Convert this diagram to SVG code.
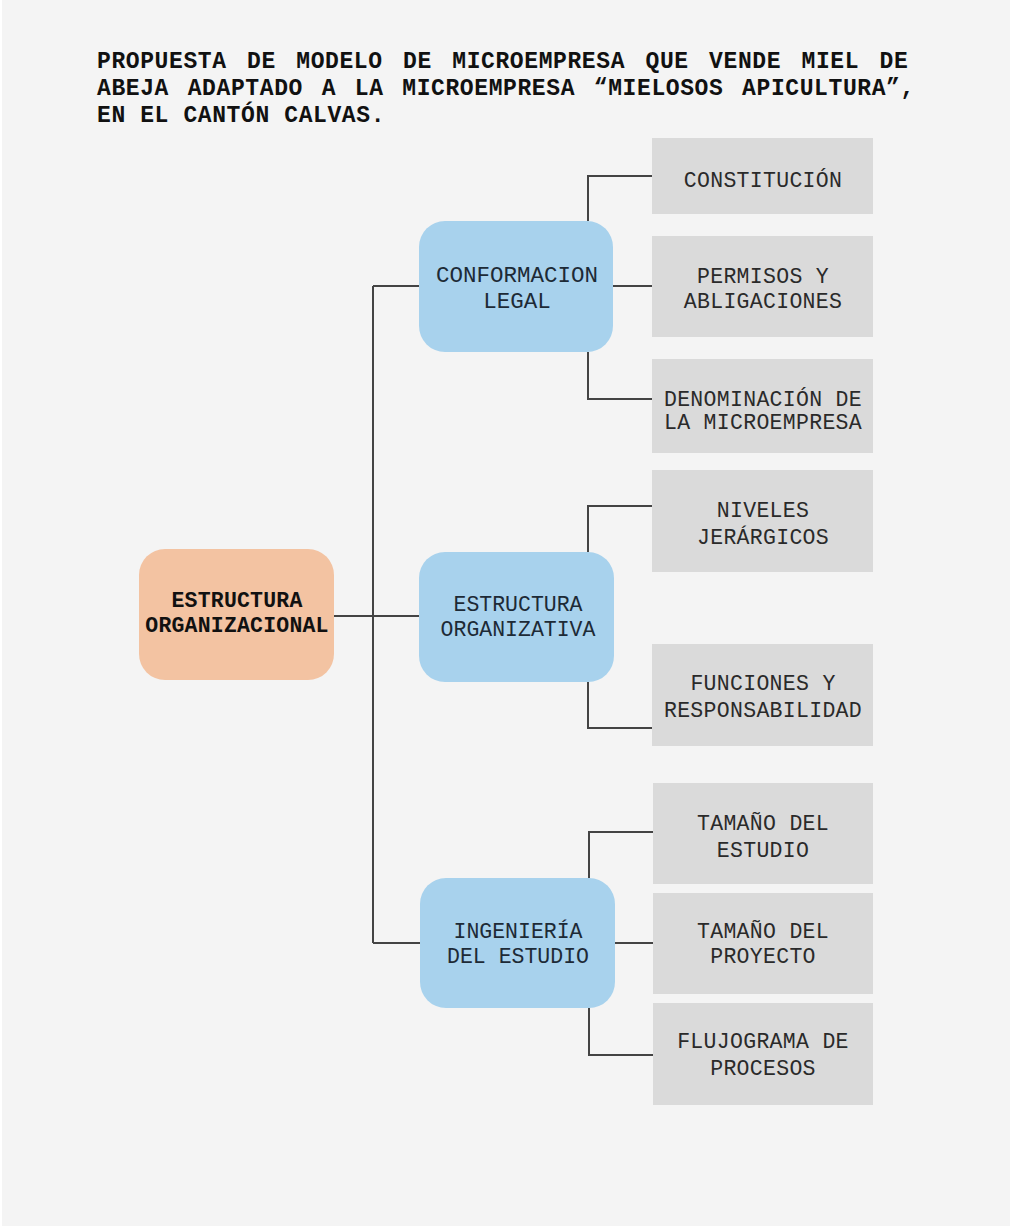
<svg xmlns="http://www.w3.org/2000/svg" width="1010" height="1229" viewBox="0 0 1010 1229">
<style>
.title{font-family:"Liberation Mono",monospace;font-weight:bold;font-size:23px;letter-spacing:0.6px;fill:#111}
.ot{font-family:"Liberation Mono",monospace;font-weight:bold;font-size:21.5px;letter-spacing:0.2px;fill:#111;text-anchor:middle}
.bt{font-family:"Liberation Mono",monospace;font-size:21.5px;letter-spacing:0px;fill:#1d2a36;text-anchor:middle}
.gt{font-family:"Liberation Mono",monospace;font-size:21.5px;letter-spacing:0.3px;fill:#2a2a2a;text-anchor:middle}
.orange{fill:#f3c3a2}
.blue{fill:#a8d2ed}
.gray{fill:#dadada}
.conn{fill:none;stroke:#444;stroke-width:2}
</style>
<rect x="0" y="0" width="1010" height="1229" fill="#ffffff"/>
<rect x="2" y="0" width="1008" height="1226" fill="#f4f4f4"/>
<g id="title">
<text class="title" x="97" y="68" word-spacing="6">PROPUESTA DE MODELO DE MICROEMPRESA QUE VENDE MIEL DE</text>
<text class="title" x="97" y="95" word-spacing="4.3">ABEJA ADAPTADO A LA MICROEMPRESA “MIELOSOS APICULTURA”,</text>
<text class="title" x="97" y="122">EN EL CANTÓN CALVAS.</text>
</g>
<g id="connectors">
<path class="conn" d="M373 286 V943"/>
<path class="conn" d="M373 286 H419"/>
<path class="conn" d="M334 616 H419"/>
<path class="conn" d="M373 943 H420"/>
<path class="conn" d="M588 221 V176 H652"/>
<path class="conn" d="M613 286 H652"/>
<path class="conn" d="M588 352 V399 H652"/>
<path class="conn" d="M588 552 V506 H652"/>
<path class="conn" d="M588 682 V728 H652"/>
<path class="conn" d="M589 878 V832 H653"/>
<path class="conn" d="M615 943 H653"/>
<path class="conn" d="M589 1008 V1055 H653"/>
</g>
<g id="n-estructura-organizacional">
<rect class="orange" x="139" y="549" width="195" height="131" rx="26"/>
<text class="ot" x="237" y="607">ESTRUCTURA</text>
<text class="ot" x="237" y="632">ORGANIZACIONAL</text>
</g>
<g id="n-conformacion-legal">
<rect class="blue" x="419" y="221" width="194" height="131" rx="26"/>
<text class="bt" x="517" y="282" style="font-size:22.5px">CONFORMACION</text>
<text class="bt" x="517" y="308" style="font-size:22.5px">LEGAL</text>
</g>
<g id="n-estructura-organizativa">
<rect class="blue" x="419" y="552" width="195" height="130" rx="26"/>
<text class="bt" x="518" y="611">ESTRUCTURA</text>
<text class="bt" x="518" y="636">ORGANIZATIVA</text>
</g>
<g id="n-ingenieria">
<rect class="blue" x="420" y="878" width="195" height="130" rx="26"/>
<text class="bt" x="518" y="938">INGENIERÍA</text>
<text class="bt" x="518" y="963">DEL ESTUDIO</text>
</g>
<g id="n-constitucion">
<rect class="gray" x="652" y="138" width="221" height="76"/>
<text class="gt" x="763" y="187">CONSTITUCIÓN</text>
</g>
<g id="n-permisos">
<rect class="gray" x="652" y="236" width="221" height="101"/>
<text class="gt" x="763" y="283">PERMISOS Y</text>
<text class="gt" x="763" y="308">ABLIGACIONES</text>
</g>
<g id="n-denominacion">
<rect class="gray" x="652" y="359" width="221" height="94"/>
<text class="gt" x="763" y="406">DENOMINACIÓN DE</text>
<text class="gt" x="763" y="429">LA MICROEMPRESA</text>
</g>
<g id="n-niveles">
<rect class="gray" x="652" y="470" width="221" height="102"/>
<text class="gt" x="763" y="517">NIVELES</text>
<text class="gt" x="763" y="544">JERÁRGICOS</text>
</g>
<g id="n-funciones">
<rect class="gray" x="652" y="644" width="221" height="102"/>
<text class="gt" x="763" y="690">FUNCIONES Y</text>
<text class="gt" x="763" y="717">RESPONSABILIDAD</text>
</g>
<g id="n-tamano-estudio">
<rect class="gray" x="653" y="783" width="220" height="101"/>
<text class="gt" x="763" y="830">TAMAÑO DEL</text>
<text class="gt" x="763" y="857">ESTUDIO</text>
</g>
<g id="n-tamano-proyecto">
<rect class="gray" x="653" y="893" width="220" height="101"/>
<text class="gt" x="763" y="938">TAMAÑO DEL</text>
<text class="gt" x="763" y="963">PROYECTO</text>
</g>
<g id="n-flujograma">
<rect class="gray" x="653" y="1003" width="220" height="102"/>
<text class="gt" x="763" y="1048">FLUJOGRAMA DE</text>
<text class="gt" x="763" y="1075">PROCESOS</text>
</g>
</svg>
